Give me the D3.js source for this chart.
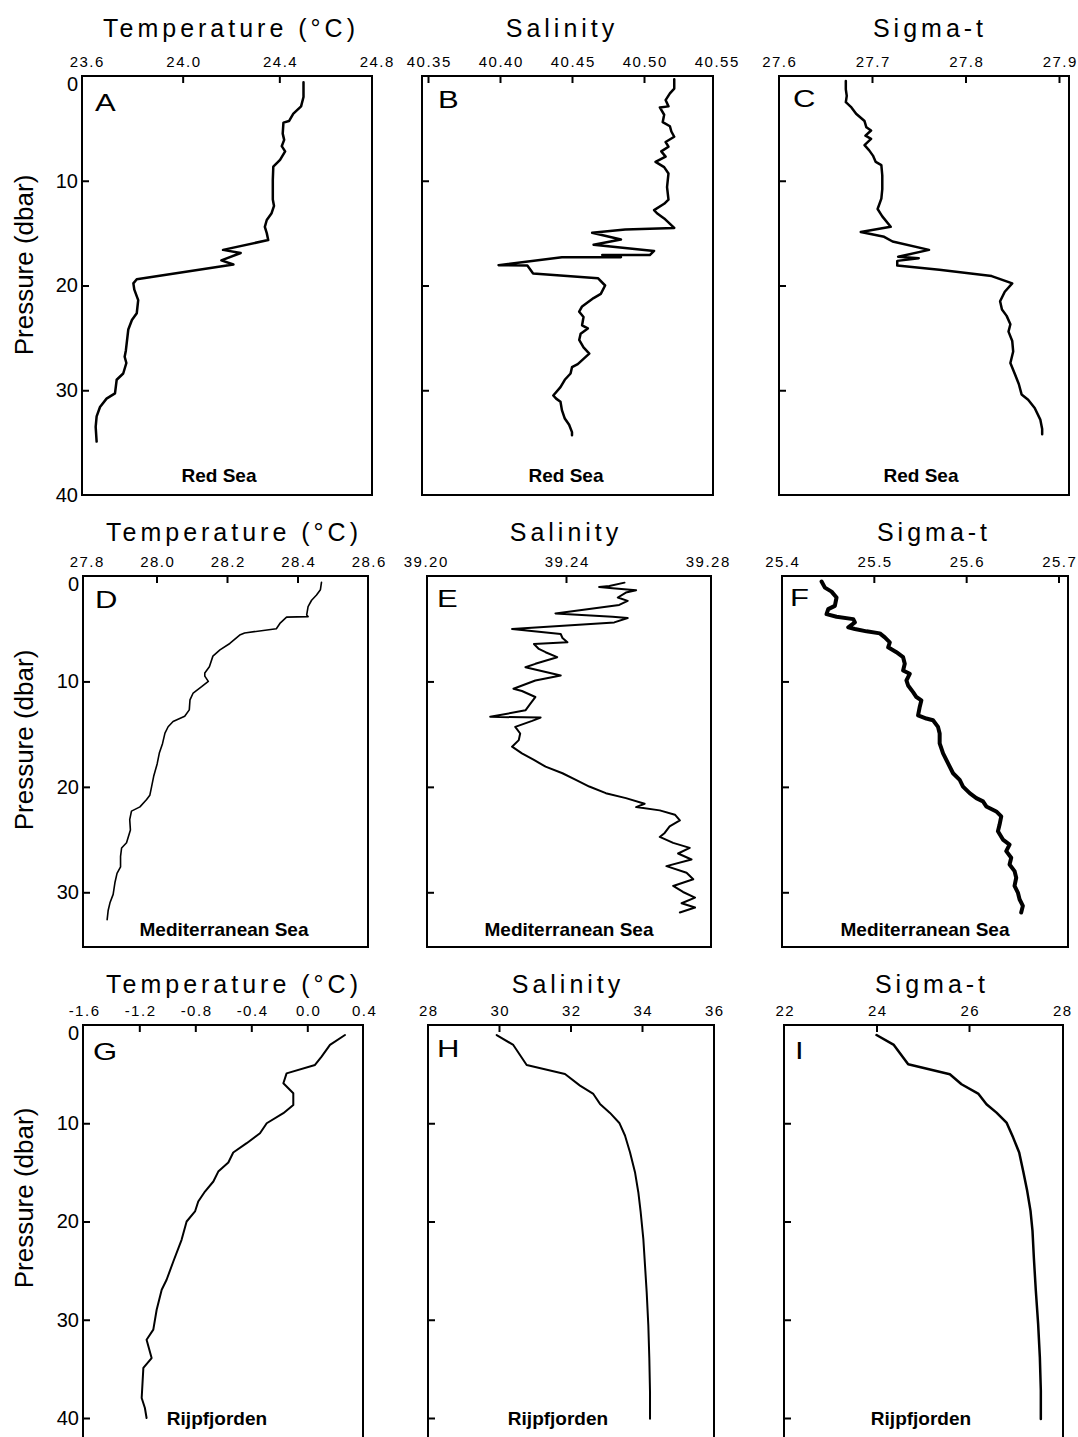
<!DOCTYPE html>
<html><head><meta charset="utf-8">
<script src="https://cdn.jsdelivr.net/npm/d3@7"></script>
<style>
body{margin:0;background:#fff;}
svg{display:block;font-family:"Liberation Sans",Arial,Helvetica,sans-serif;}
</style></head><body>
<svg id="chart" width="1078" height="1437"></svg>
<script>
// ---------------- DATA ----------------
// pressure tick labels per row
const pressureTicksRedSea = [0, 10, 20, 30, 40];
const pressureTicksMed = [0, 10, 20, 30];
const pressureTicksRijp = [0, 10, 20, 30, 40];

// x tick labels
const tempTicksRedSea = [23.6, 24.0, 24.4, 24.8];
const salTicksRedSea = [40.35, 40.40, 40.45, 40.50, 40.55];
const sigmaTicksRedSea = [27.6, 27.7, 27.8, 27.9];
const tempTicksMed = [27.8, 28.0, 28.2, 28.4, 28.6];
const salTicksMed = [39.20, 39.24, 39.28];
const sigmaTicksMed = [25.4, 25.5, 25.6, 25.7];
const tempTicksRijp = [-1.6, -1.2, -0.8, -0.4, 0.0, 0.4];
const salTicksRijp = [28, 30, 32, 34, 36];
const sigmaTicksRijp = [22, 24, 26, 28];

// profiles: [pressure (dbar), value]
const redSeaTemp = [[0.6,24.50],[2.0,24.50],[2.9,24.49],[3.6,24.458],[4.3,24.44],[4.45,24.417],[5.5,24.414],[6.1,24.42],[6.7,24.41],[7.2,24.424],[8.0,24.403],[8.66,24.375],[9.9,24.373],[11.8,24.373],[12.4,24.378],[13.1,24.368],[13.75,24.348],[14.4,24.34],[15.0,24.348],[15.66,24.354],[16.6,24.167],[16.9,24.24],[17.6,24.16],[18.0,24.21],[19.4,23.81],[19.8,23.796],[20.4,23.80],[21.4,23.816],[22.65,23.81],[23.3,23.79],[24.2,23.775],[26.2,23.765],[26.8,23.76],[27.4,23.767],[28.4,23.754],[29.0,23.727],[30.3,23.72],[30.8,23.685],[31.6,23.658],[32.5,23.644],[33.5,23.64],[34.9,23.644]];
const redSeaSal = [[0.32,40.521],[1.2,40.521],[1.66,40.518],[2.3,40.515],[2.9,40.517],[3.0,40.511],[3.7,40.514],[4.4,40.513],[4.8,40.518],[5.3,40.519],[5.8,40.521],[6.3,40.515],[6.75,40.517],[7.2,40.512],[7.7,40.515],[8.2,40.508],[8.7,40.514],[9.3,40.517],[10.6,40.516],[11.8,40.517],[12.2,40.514],[12.8,40.507],[13.1,40.509],[13.6,40.514],[14.5,40.521],[14.65,40.487],[14.97,40.464],[15.6,40.484],[16.1,40.465],[16.7,40.507],[17.1,40.504],[17.1,40.471],[17.3,40.484],[17.3,40.443],[18.06,40.399],[18.1,40.419],[18.85,40.423],[19.3,40.468],[20.0,40.473],[20.8,40.470],[21.2,40.465],[22.0,40.457],[22.5,40.455],[23.0,40.458],[23.8,40.457],[24.1,40.461],[24.6,40.456],[25.2,40.455],[25.9,40.458],[26.5,40.462],[27.0,40.458],[27.5,40.454],[27.8,40.450],[28.4,40.449],[29.0,40.445],[29.7,40.442],[30.5,40.437],[30.8,40.439],[31.1,40.442],[31.9,40.443],[32.7,40.445],[33.3,40.448],[34.0,40.450],[34.3,40.450]];
const redSeaSigma = [[0.47,27.672],[1.27,27.672],[1.9,27.673],[2.5,27.672],[3.0,27.678],[3.6,27.683],[4.3,27.692],[4.9,27.694],[5.2,27.699],[5.7,27.693],[6.0,27.699],[6.6,27.692],[7.1,27.697],[7.6,27.701],[8.2,27.704],[8.5,27.710],[9.5,27.711],[10.8,27.711],[11.7,27.710],[12.7,27.706],[13.4,27.711],[14.4,27.720],[14.9,27.688],[15.35,27.713],[15.8,27.722],[16.6,27.761],[17.25,27.728],[17.4,27.750],[17.65,27.727],[18.1,27.727],[18.5,27.772],[19.1,27.828],[19.8,27.850],[20.6,27.842],[21.5,27.837],[22.3,27.839],[22.9,27.844],[23.7,27.848],[24.4,27.846],[25.3,27.850],[26.3,27.851],[27.4,27.848],[28.5,27.853],[29.4,27.857],[30.4,27.860],[30.9,27.867],[31.7,27.874],[32.8,27.880],[33.7,27.882],[34.2,27.882]];
const medTemp = [[0.6,28.468],[1.3,28.465],[1.8,28.454],[2.3,28.44],[2.9,28.43],[3.7,28.426],[3.85,28.43],[3.9,28.369],[4.5,28.35],[5.0,28.34],[5.4,28.25],[5.6,28.236],[6.4,28.208],[7.0,28.18],[7.6,28.16],[8.6,28.15],[9.2,28.137],[9.5,28.137],[10.0,28.147],[10.5,28.128],[11.1,28.104],[11.75,28.095],[12.7,28.093],[13.3,28.08],[13.8,28.047],[14.3,28.033],[14.9,28.024],[15.9,28.017],[16.8,28.008],[17.8,28.002],[19.0,27.992],[20.0,27.986],[20.8,27.981],[21.2,27.972],[21.9,27.953],[22.3,27.929],[23.1,27.924],[24.1,27.926],[25.3,27.915],[25.8,27.901],[26.6,27.898],[27.6,27.898],[28.2,27.888],[29.1,27.882],[30.2,27.877],[31.0,27.868],[31.7,27.863],[32.6,27.86]];
const medSal = [[0.63,39.2566],[0.94,39.2523],[1.04,39.2494],[1.16,39.2532],[1.35,39.2599],[1.57,39.2570],[2.04,39.2547],[2.36,39.2575],[2.74,39.2551],[3.55,39.2370],[3.87,39.2532],[3.99,39.2575],[4.40,39.2537],[5.03,39.2247],[5.50,39.2385],[5.88,39.2390],[6.29,39.2404],[6.45,39.2309],[6.92,39.2323],[7.23,39.2342],[7.70,39.2375],[8.33,39.2313],[8.65,39.2285],[9.43,39.2385],[9.91,39.2313],[10.69,39.2251],[10.91,39.2275],[11.48,39.2313],[12.11,39.2299],[12.74,39.2285],[13.36,39.2185],[13.43,39.2328],[13.74,39.2304],[14.31,39.2256],[14.94,39.2270],[15.57,39.2266],[16.19,39.2247],[16.82,39.2275],[17.45,39.2309],[18.08,39.2342],[18.71,39.2390],[19.34,39.2428],[19.97,39.2466],[20.60,39.2513],[21.07,39.2570],[21.60,39.2623],[21.92,39.2599],[22.23,39.2666],[22.64,39.2709],[23.18,39.2723],[23.74,39.2694],[24.37,39.2680],[24.75,39.2666],[25.31,39.2704],[25.79,39.2751],[26.32,39.2718],[26.89,39.2756],[27.52,39.2685],[28.14,39.2742],[28.77,39.2761],[29.40,39.2704],[29.97,39.2732],[30.50,39.2766],[31.04,39.2728],[31.45,39.2766],[31.92,39.2723]];
const medSigma = [[0.53,25.4434],[1.10,25.447],[1.48,25.4542],[2.04,25.4596],[2.83,25.4578],[3.14,25.4506],[3.62,25.4488],[3.87,25.4596],[4.09,25.4777],[4.40,25.4795],[4.87,25.4723],[5.03,25.4795],[5.25,25.4921],[5.44,25.5065],[5.82,25.5119],[6.29,25.5173],[6.76,25.5155],[7.23,25.5245],[7.70,25.5317],[8.33,25.5335],[8.96,25.5317],[9.28,25.5389],[9.91,25.5353],[10.38,25.5371],[11.01,25.5425],[11.48,25.5461],[11.79,25.5515],[12.42,25.5497],[13.21,25.5479],[13.52,25.5569],[13.68,25.5641],[14.31,25.5695],[14.94,25.5713],[15.88,25.5713],[16.82,25.5750],[17.77,25.5804],[18.71,25.5858],[19.34,25.5930],[19.97,25.5966],[20.60,25.6038],[21.07,25.6110],[21.38,25.6182],[21.86,25.6218],[22.33,25.6326],[22.80,25.6380],[23.58,25.6362],[24.21,25.6344],[25.00,25.6398],[25.47,25.6470],[26.10,25.6434],[26.73,25.6488],[27.36,25.6470],[27.99,25.6524],[28.62,25.6542],[29.40,25.6524],[30.03,25.6560],[30.66,25.6578],[31.29,25.6614],[31.92,25.6596]];
const rijpTemp = [[1.02,0.269],[2.03,0.162],[3.22,0.102],[4.07,0.055],[4.92,-0.148],[5.93,-0.171],[6.95,-0.10],[8.14,-0.10],[8.98,-0.171],[10.0,-0.29],[11.02,-0.338],[12.03,-0.433],[12.98,-0.529],[14.0,-0.564],[14.92,-0.636],[15.93,-0.671],[16.95,-0.731],[17.97,-0.779],[18.98,-0.802],[20.0,-0.862],[21.86,-0.898],[24.07,-0.957],[25.93,-1.005],[26.95,-1.040],[28.98,-1.076],[31.0,-1.10],[32.03,-1.148],[33.9,-1.112],[34.9,-1.171],[37.97,-1.183],[38.98,-1.160],[40.0,-1.148]];
const rijpSal = [[1.02,29.935],[2.03,30.40],[4.07,30.774],[4.98,31.846],[6.17,32.266],[7.02,32.639],[8.03,32.825],[8.95,33.105],[9.97,33.366],[11.25,33.524],[12.95,33.664],[14.98,33.804],[17.02,33.897],[19.05,33.963],[21.76,34.037],[24.47,34.084],[27.19,34.131],[30.58,34.177],[33.97,34.205],[37.36,34.224],[40.07,34.224]];
const rijpSigma = [[1.02,24.0],[2.03,24.375],[4.0,24.685],[5.02,25.586],[6.03,25.838],[6.98,26.198],[8.07,26.378],[8.92,26.595],[9.93,26.811],[11.46,26.955],[12.98,27.085],[14.85,27.171],[16.88,27.258],[18.92,27.330],[20.95,27.373],[23.66,27.402],[27.05,27.445],[30.44,27.495],[33.83,27.532],[37.22,27.553],[40.10,27.553]];

// ---------------- LAYOUT ----------------
const fmt0 = d => d.toFixed(0), fmt1 = d => d.toFixed(1), fmt2 = d => d.toFixed(2);

const rows = [
  {domain:[0,40], range:[76,495], frameY:[76,495], pTicks:pressureTicksRedSea, titleY:37, siteY:482, site:"Red Sea", labelY:265},
  {domain:[0,35], range:[576,945], frameY:[576,947], pTicks:pressureTicksMed, titleY:541, siteY:936, site:"Mediterranean Sea", labelY:740},
  {domain:[0,40], range:[1025,1418], frameY:[1025,1460], pTicks:pressureTicksRijp, titleY:993, siteY:1425, site:"Rijpfjorden", labelY:1198}
];

const panels = [
  {id:"A", row:0, data:redSeaTemp, ticks:tempTicksRedSea, fmt:fmt1, title:"Temperature (°C)", frame:[82,372], range:[86,376], titleX:231, siteX:219, letter:[95,111], lw:2.5, yLabels:true},
  {id:"B", row:0, data:redSeaSal, ticks:salTicksRedSea, fmt:fmt2, title:"Salinity", frame:[422,713], range:[428,716], titleX:562, siteX:566, letter:[438,108], lw:2.5},
  {id:"C", row:0, data:redSeaSigma, ticks:sigmaTicksRedSea, fmt:fmt1, title:"Sigma-t", frame:[779,1069], range:[778.5,1059], titleX:930, siteX:921, letter:[793,107], lw:2.5},
  {id:"D", row:1, data:medTemp, ticks:tempTicksMed, fmt:fmt1, title:"Temperature (°C)", frame:[83,368], range:[86,368], titleX:234, siteX:224, letter:[95,608], lw:1.6, yLabels:true},
  {id:"E", row:1, data:medSal, ticks:salTicksMed, fmt:fmt2, title:"Salinity", frame:[427,711], range:[425,707], titleX:566, siteX:569, letter:[437,607], lw:2},
  {id:"F", row:1, data:medSigma, ticks:sigmaTicksMed, fmt:fmt1, title:"Sigma-t", frame:[782,1068], range:[781.5,1058.5], titleX:934, siteX:925, letter:[790,606], lw:4},
  {id:"G", row:2, data:rijpTemp, ticks:tempTicksRijp, fmt:fmt1, title:"Temperature (°C)", frame:[83,363], range:[83.3,363.3], titleX:234, siteX:217, letter:[93,1060], lw:2, yLabels:true},
  {id:"H", row:2, data:rijpSal, ticks:salTicksRijp, fmt:fmt0, title:"Salinity", frame:[428,714], range:[427.5,713.5], titleX:568, siteX:558, letter:[437,1057], lw:2},
  {id:"I", row:2, data:rijpSigma, ticks:sigmaTicksRijp, fmt:fmt0, title:"Sigma-t", frame:[784,1063], range:[784,1061.5], titleX:932, siteX:921, letter:[795,1059], lw:2.5}
];

// ---------------- DRAW ----------------
const svg = d3.select("#chart");
svg.append("rect").attr("width",1078).attr("height",1437).attr("fill","#fff");

panels.forEach(pn => {
  const r = rows[pn.row];
  const x = d3.scaleLinear().domain(d3.extent(pn.ticks)).range(pn.range);
  const y = d3.scaleLinear().domain(r.domain).range(r.range);
  const g = svg.append("g");

  // frame
  g.append("rect")
    .attr("x", pn.frame[0]).attr("y", r.frameY[0])
    .attr("width", pn.frame[1]-pn.frame[0]).attr("height", r.frameY[1]-r.frameY[0])
    .attr("fill","none").attr("stroke","#000").attr("stroke-width",2);

  // top axis
  const xa = g.append("g").attr("transform", `translate(0,${r.range[0]})`)
    .call(d3.axisTop(x).tickValues(pn.ticks).tickFormat(pn.fmt)
      .tickSizeInner(-7).tickSizeOuter(0).tickPadding(9));
  xa.attr("font-family", null).attr("font-size", 15);
  xa.select(".domain").remove();
  xa.selectAll(".tick line").attr("stroke","#000").attr("stroke-width",2)
    .attr("display", d => (x(d) > pn.frame[0]+5 && x(d) < pn.frame[1]-5) ? null : "none");
  xa.selectAll(".tick text").attr("fill","#000").attr("letter-spacing","1.5px").attr("dx","0.75px");

  // left axis
  const ya = g.append("g").attr("transform", `translate(${pn.frame[0]},0)`)
    .call(d3.axisLeft(y).tickValues(r.pTicks).tickFormat(pn.yLabels ? fmt0 : () => "")
      .tickSizeInner(-7).tickSizeOuter(0).tickPadding(4));
  ya.attr("font-family", null).attr("font-size", 20);
  ya.select(".domain").remove();
  ya.selectAll(".tick line").attr("stroke","#000").attr("stroke-width",2)
    .attr("display", d => (y(d) > r.frameY[0]+5 && y(d) < r.frameY[1]-5) ? null : "none");
  ya.selectAll(".tick text").attr("fill","#000").attr("dy", d => d === 0 ? "0.72em" : "0.32em");

  // profile
  g.append("path").datum(pn.data)
    .attr("d", d3.line().x(d => x(d[1])).y(d => y(d[0])))
    .attr("fill","none").attr("stroke","#000").attr("stroke-width",pn.lw)
    .attr("stroke-linejoin","round").attr("stroke-linecap","round");

  // title
  g.append("text").attr("x", pn.titleX).attr("y", r.titleY)
    .attr("text-anchor","middle").attr("font-size",25).attr("letter-spacing","4px")
    .text(pn.title);

  // site label
  g.append("text").attr("x", pn.siteX).attr("y", r.siteY)
    .attr("text-anchor","middle").attr("font-size",19).attr("font-weight","bold")
    .text(r.site);

  // panel letter
  g.append("text").attr("transform", `translate(${pn.letter[0]},${pn.letter[1]}) scale(1.35,1)`)
    .attr("font-size",23).text(pn.id);

  if (pn.yLabels) {
    svg.append("text").attr("transform", `translate(33,${r.labelY}) rotate(-90)`)
      .attr("text-anchor","middle").attr("font-size",26).text("Pressure (dbar)");
  }
});
</script>
</body></html>
